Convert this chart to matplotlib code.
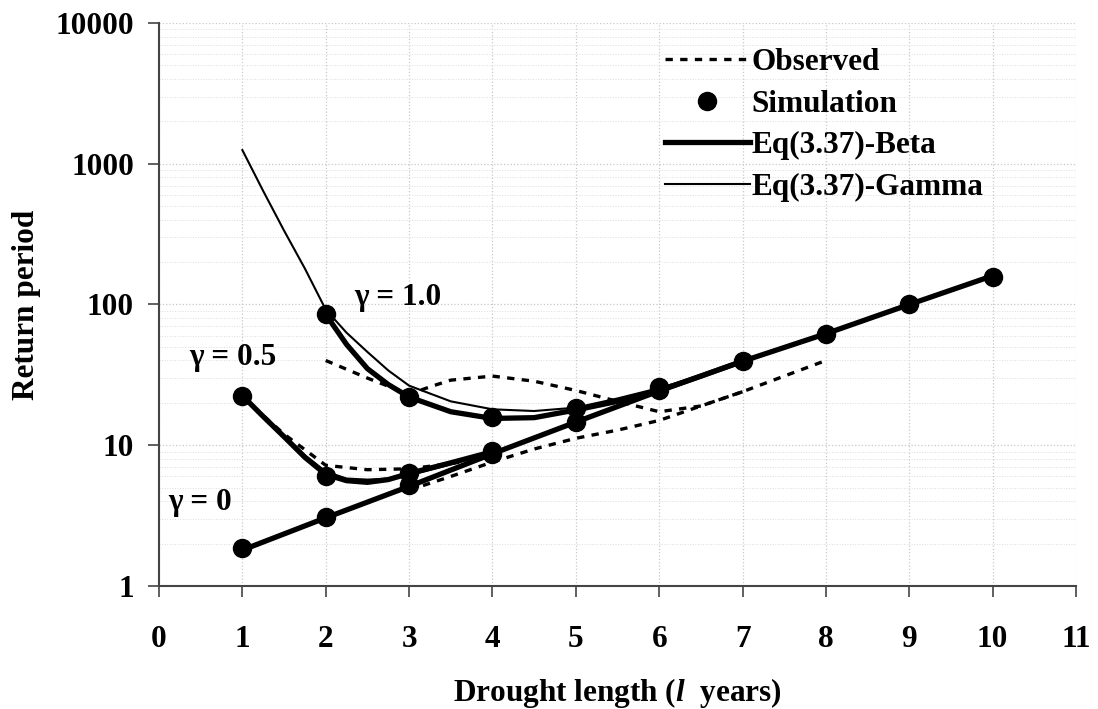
import matplotlib
matplotlib.use("Agg")
import matplotlib.pyplot as plt
from matplotlib.ticker import FixedLocator, FixedFormatter, NullFormatter, LogLocator

plt.rcParams["font.family"] = "Liberation Serif"
plt.rcParams["font.weight"] = "bold"
plt.rcParams["axes.labelweight"] = "bold"
plt.rcParams["mathtext.fontset"] = "custom"
plt.rcParams["mathtext.it"] = "Liberation Serif:bold:italic"
plt.rcParams["mathtext.rm"] = "Liberation Serif:bold"

# simulation points
sim_x0 = [1, 2, 3, 4, 5, 6, 7, 8, 9, 10]
sim_y0 = [1.85, 3.1, 5.2, 8.7, 14.7, 24.5, 39.5, 61.5, 100, 158]
sim_x05 = [1, 2, 3, 4]
sim_y05 = [22.5, 6.0, 6.3, 9.1]
sim_x1 = [2, 3, 4, 5, 6]
sim_y1 = [85, 22, 15.8, 18.5, 26]

# Eq(3.37)-Beta
beta_x0 = [1, 2, 3, 4, 5, 6, 7, 8, 9, 10]
beta_y0 = [1.8, 3.05, 5.1, 8.7, 14.6, 24.3, 39.5, 62, 100, 160]
beta_x05 = [1, 1.25, 1.5, 1.75, 2, 2.25, 2.5, 2.75, 3, 3.5, 4]
beta_y05 = [22.5, 16, 11.5, 8.2, 6.2, 5.6, 5.45, 5.7, 6.3, 7.5, 9.0]
beta_x1 = [2, 2.25, 2.5, 2.75, 3, 3.5, 4, 4.5, 5, 5.5, 6, 6.5, 7]
beta_y1 = [85, 52, 35, 27, 22, 17.3, 15.5, 15.7, 17.8, 20.5, 24.5, 31, 39.5]

# Eq(3.37)-Gamma
gam_x0 = [1, 2, 3, 4, 5, 6, 7, 8, 9, 10]
gam_y0 = [1.8, 3.05, 5.1, 8.7, 14.6, 24.3, 39.5, 62, 100, 160]
gam_x05 = [1, 1.25, 1.5, 1.75, 2, 2.25, 2.5, 2.75, 3, 3.5, 4]
gam_y05 = [22, 16.2, 11.8, 8.5, 6.5, 5.8, 5.7, 5.8, 6.1, 7.3, 8.9]
gam_x1 = [1, 1.25, 1.5, 1.75, 2, 2.25, 2.5, 2.75, 3, 3.5, 4, 4.5, 5, 5.5, 6, 6.5, 7]
gam_y1 = [1250, 640, 335, 180, 92, 63, 46, 34, 26.5, 20.5, 18, 17.5, 18.5, 21.5, 25.5, 31, 39.5]

# Observed
obs_x0 = [3, 3.5, 4, 4.5, 5, 5.5, 6, 6.5, 7, 7.5, 8]
obs_y0 = [4.8, 6.0, 7.6, 9.4, 11.2, 12.8, 15, 19, 24, 31, 40]
obs_x05 = [1, 1.5, 2, 2.5, 3, 3.5, 4]
obs_y05 = [22, 12, 7.2, 6.7, 6.8, 7.4, 8.3]
obs_x1 = [2, 2.5, 3, 3.25, 3.5, 4, 4.5, 5, 5.5, 6, 6.5, 7]
obs_y1 = [40, 30, 23, 26, 29, 31, 28.5, 24.5, 20.5, 17.3, 19, 24]

xticks = list(range(0, 12))
yticks = [1, 10, 100, 1000, 10000]
ytick_labels = ["1", "10", "100", "1000", "10000"]

FS = 22.5

fig = plt.figure(figsize=(10.98, 7.09), dpi=100)
ax = fig.add_axes([0.1448, 0.1735, 0.8352, 0.7941])

dash = (0, (2.2, 2.2))
ax.plot(obs_x0, obs_y0, color="black", lw=2.4, linestyle=dash)
ax.plot(obs_x05, obs_y05, color="black", lw=2.4, linestyle=dash)
ax.plot(obs_x1, obs_y1, color="black", lw=2.4, linestyle=dash)

for bx, by in [(beta_x0, beta_y0), (beta_x05, beta_y05), (beta_x1, beta_y1)]:
    ax.plot(bx, by, color="black", lw=3.8, solid_capstyle="round", solid_joinstyle="round")
for gx, gy in [(gam_x0, gam_y0), (gam_x05, gam_y05), (gam_x1, gam_y1)]:
    ax.plot(gx, gy, color="black", lw=1.5, solid_joinstyle="round")

for sx, sy in [(sim_x0, sim_y0), (sim_x05, sim_y05), (sim_x1, sim_y1)]:
    ax.plot(sx, sy, "o", color="black", ms=13, ls="none", zorder=5)

# legend proxies
h_obs = ax.plot([], [], color="black", lw=2.4, linestyle=dash)[0]
h_sim = ax.plot([], [], "o", color="black", ms=13, ls="none")[0]
h_beta = ax.plot([], [], color="black", lw=3.8)[0]
h_gam = ax.plot([], [], color="black", lw=1.5)[0]
ax.legend([h_obs, h_sim, h_beta, h_gam],
          ["Observed", "Simulation", "Eq(3.37)-Beta", "Eq(3.37)-Gamma"],
          loc="upper left", bbox_to_anchor=(0.552, 0.955), frameon=False,
          borderaxespad=0, borderpad=0,
          fontsize=FS, handlelength=2.7, handletextpad=0.05, labelspacing=0.4)

ax.text(2.87, 112, "γ = 1.0", fontsize=FS, ha="center", va="center")
ax.text(0.89, 42, "γ = 0.5", fontsize=FS, ha="center", va="center")
ax.text(0.49, 3.9, "γ = 0", fontsize=FS, ha="center", va="center")

ax.set_yscale("log")
ax.set_xlim(0, 11)
ax.set_ylim(1, 10000)
ax.set_xticks(xticks)
ax.yaxis.set_major_locator(FixedLocator(yticks))
ax.yaxis.set_major_formatter(FixedFormatter(ytick_labels))
ax.yaxis.set_minor_locator(LogLocator(base=10, subs=range(2, 10)))
ax.yaxis.set_minor_formatter(NullFormatter())
ax.tick_params(axis="y", which="minor", length=0)
ax.tick_params(axis="both", which="major", labelsize=FS, length=8, width=1.2,
               color="#444444")
ax.tick_params(axis="y", which="major", pad=10)
ax.tick_params(axis="x", which="major", pad=20)

ax.grid(True, which="major", color="#c8c8c8", ls=":", lw=0.9)
ax.grid(True, which="minor", axis="y", color="#dddddd", ls=":", lw=0.7)
for s in ["top", "right"]:
    ax.spines[s].set_visible(False)
for s in ["left", "bottom"]:
    ax.spines[s].set_color("#444444")
    ax.spines[s].set_linewidth(1.5)

ax.set_xlabel("Drought length ($l$  years)", fontsize=FS, labelpad=16)
ax.set_ylabel("Return period", fontsize=FS, labelpad=10)

fig.savefig("out.png", dpi=100)
